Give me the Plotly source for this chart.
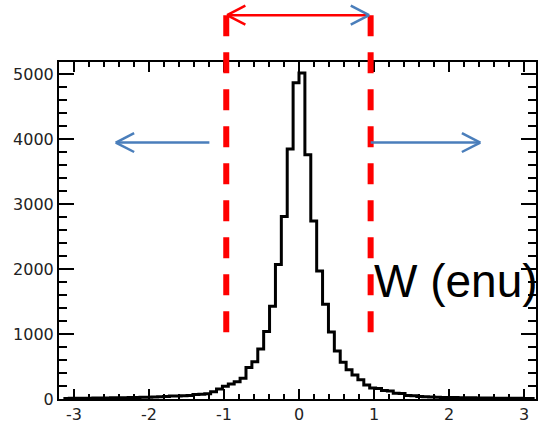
import numpy as np
import plotly.graph_objects as go

# ---------------- data ----------------
n_bins = 80
x_lo, x_hi = -np.pi, np.pi
counts = [
    8, 10, 10, 12, 12, 14, 15, 16, 18, 18, 20, 22, 24, 26, 28, 32, 36, 40,
    45, 48, 50, 55,
    70, 75, 80,
    112, 155, 195, 230, 265, 320, 485, 575, 770, 1040, 1430, 2070, 2810, 3850, 4870, 5020,
    3760, 2740, 1970, 1460, 1030, 740, 565, 450, 370, 295, 215, 170, 160, 130, 125, 90, 85,
    55, 50, 38, 34, 30, 28,
    25, 24, 22, 20, 20, 18, 16, 15, 14, 13, 12, 11, 10, 10, 9, 8,
]
x_tick_vals = [-3, -2, -1, 0, 1, 2, 3]
x_tick_text = ["-3", "-2", "-1", "0", "1", "2", "3"]
y_tick_vals = [0, 1000, 2000, 3000, 4000, 5000]
y_tick_text = ["0", "1000", "2000", "3000", "4000", "5000"]
cut_lo, cut_hi = -0.97, 0.955          # red dashed window
arrow_y = 3950                          # blue arrows height
blue_left = (-1.195, -2.443)
blue_right = (0.956, 2.417)
label_text = "W (enu)"

edges = np.linspace(x_lo, x_hi, n_bins + 1)
xs = list(edges)
ys = list(counts) + [counts[-1]]

fig = go.Figure()
fig.add_trace(go.Scatter(x=xs, y=ys, mode="lines",
                         line=dict(color="black", width=3, shape="hv"),
                         hoverinfo="skip"))

RED = "#ff0000"
BLUE = "#4a7ebb"
shapes = []
# red dashed vertical lines
for xv in (cut_lo, cut_hi):
    shapes.append(dict(type="line", xref="x", yref="paper", x0=xv, x1=xv,
                       y0=1.139, y1=0.192, layer="above",
                       line=dict(color=RED, width=6, dash="21px,16px")))
# red top double arrow
ytop = 1.139
shapes.append(dict(type="line", xref="x", yref="paper", x0=cut_lo + 0.01, x1=cut_hi - 0.02,
                   y0=ytop, y1=ytop, layer="above", line=dict(color=RED, width=2.5)))
hx, hy = 0.245, 0.028
for s in (1, -1):
    shapes.append(dict(type="line", xref="x", yref="paper", x0=cut_lo + 0.01, y0=ytop,
                       x1=cut_lo + 0.01 + hx, y1=ytop + s * hy, layer="above",
                       line=dict(color=RED, width=2.5)))
    shapes.append(dict(type="line", xref="x", yref="paper", x0=cut_hi - 0.02, y0=ytop,
                       x1=cut_hi - 0.02 - hx, y1=ytop + s * hy, layer="above",
                       line=dict(color=BLUE, width=2.5)))
# blue arrows
hy_d = 146
for (x_from, x_tip) in (blue_left, blue_right):
    d = 1 if x_from > x_tip else -1
    shapes.append(dict(type="line", xref="x", yref="y", x0=x_from, x1=x_tip,
                       y0=arrow_y, y1=arrow_y, layer="above", line=dict(color=BLUE, width=2.5)))
    for s in (1, -1):
        shapes.append(dict(type="line", xref="x", yref="y", x0=x_tip, y0=arrow_y,
                           x1=x_tip + d * hx, y1=arrow_y + s * hy_d, layer="above",
                           line=dict(color=BLUE, width=2.5)))

tickfont = dict(family="DejaVu Sans", size=16, color="#222")
fig.update_layout(
    width=542, height=428,
    margin=dict(l=59, r=4, t=62, b=28),
    paper_bgcolor="white", plot_bgcolor="white",
    showlegend=False,
    shapes=shapes,
    annotations=[dict(text=label_text, xref="paper", yref="paper",
                      x=0.6555, y=0.349, xanchor="left", yanchor="middle",
                      showarrow=False,
                      font=dict(family="Liberation Sans", size=46, color="black"))],
    xaxis=dict(range=[-3.2, 3.16], showgrid=False, zeroline=False,
               showline=True, linecolor="black", linewidth=2, mirror="allticks",
               ticks="inside", ticklen=10, tickwidth=1.5, tickcolor="black",
               tickmode="array", tickvals=x_tick_vals, ticktext=x_tick_text,
               tickfont=tickfont,
               minor=dict(ticks="inside", ticklen=5, tickwidth=1.5, tickcolor="black",
                          tickmode="linear", tick0=0, dtick=0.2, showgrid=False)),
    yaxis=dict(range=[0, 5190], showgrid=False, zeroline=False,
               showline=True, linecolor="black", linewidth=2, mirror="allticks",
               ticks="inside", ticklen=15, tickwidth=1.5, tickcolor="black",
               tickmode="array", tickvals=y_tick_vals, ticktext=y_tick_text,
               tickfont=tickfont,
               minor=dict(ticks="inside", ticklen=8, tickwidth=1.5, tickcolor="black",
                          tickmode="linear", tick0=0, dtick=200, showgrid=False)),
)

fig.write_html("out.html")
